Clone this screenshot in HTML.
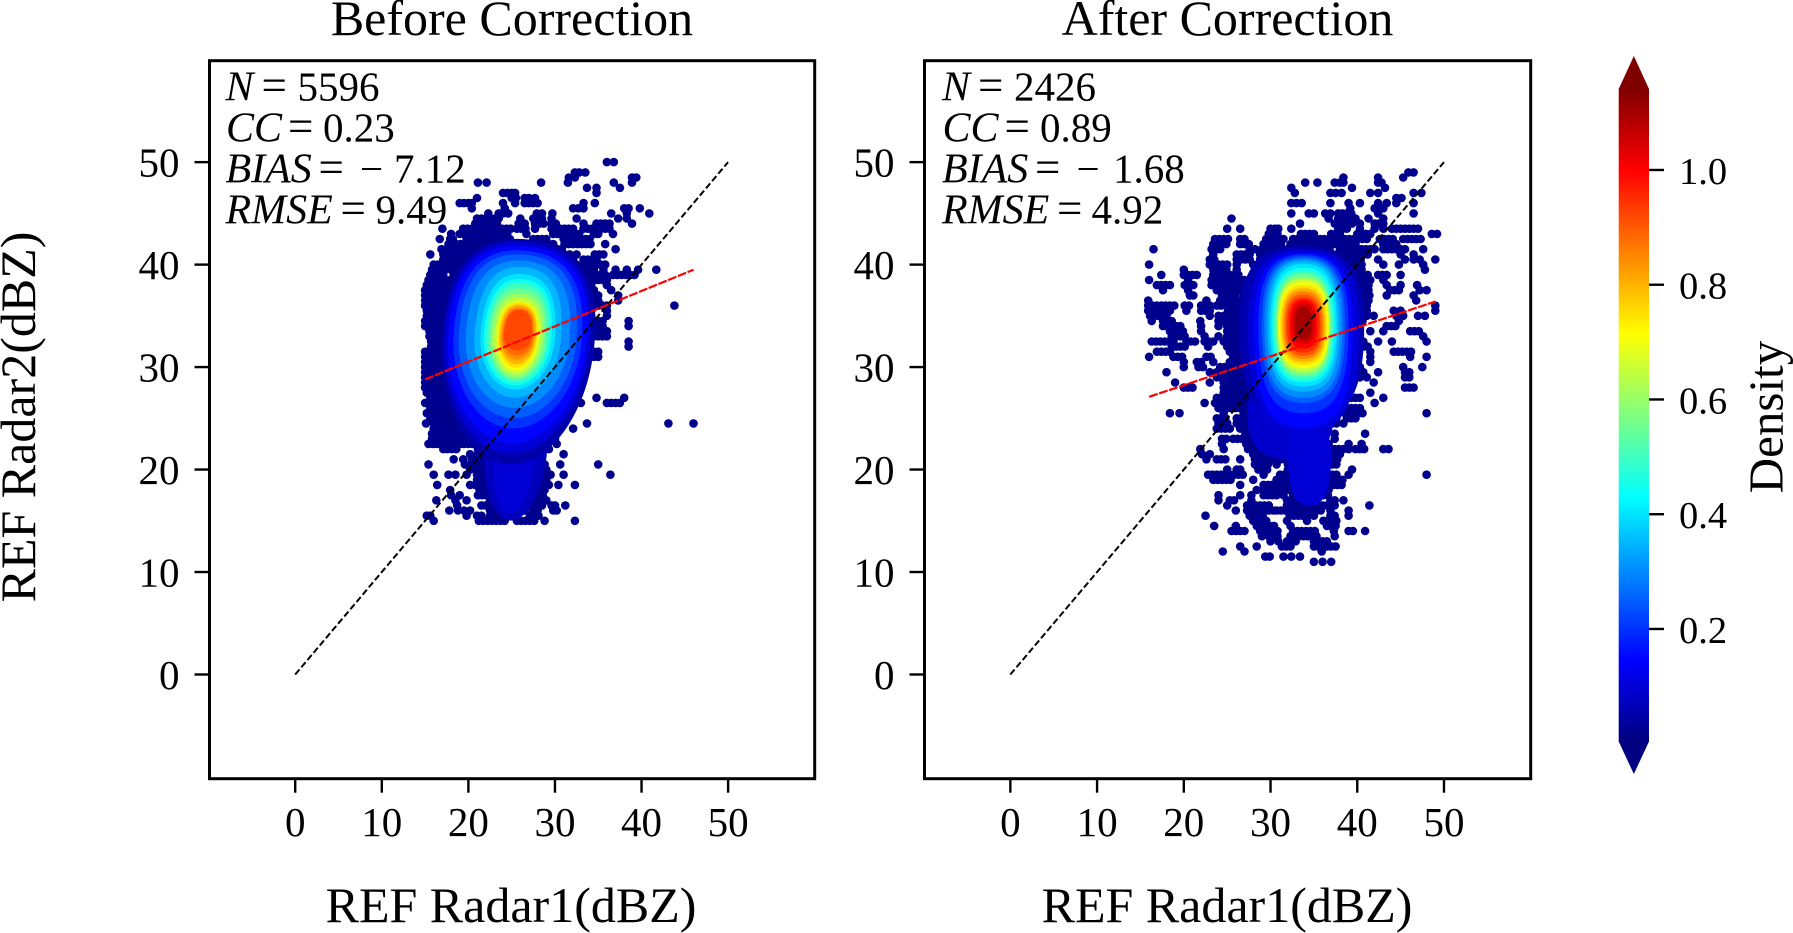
<!DOCTYPE html>
<html lang="en">
<head>
<meta charset="utf-8">
<title>Before and After Correction Radar Reflectivity Density Scatter</title>
<style>
  html, body { margin: 0; padding: 0; background: #fff; }
  svg { display: block; font-family: "Liberation Serif", serif; fill: #000; }
  .ann { font-size: 41px; }
  .ann .v { font-style: italic; font-size: 42px; }
  .ann .op { font-size: 45px; }
  .title, .axlabel { font-size: 50px; }
  .tick { font-size: 41px; }
  .cbtick { font-size: 38.5px; }
</style>
</head>
<body>
<svg id="figure" xmlns="http://www.w3.org/2000/svg" width="1793" height="933" viewBox="0 0 1793 933">
  <rect x="0" y="0" width="1793" height="933" fill="#fff"/>
  <g id="panel-before"></g>
  <g id="panel-after"></g>
  <g id="colorbar"></g>

  <text class="title" x="512" y="35" text-anchor="middle">Before Correction</text>
  <text class="title" x="1227.5" y="35" text-anchor="middle">After Correction</text>
  <text class="axlabel" x="511" y="922" text-anchor="middle">REF Radar1(dBZ)</text>
  <text class="axlabel" x="1227" y="922" text-anchor="middle">REF Radar1(dBZ)</text>
  <text class="axlabel" transform="translate(35 417) rotate(-90)" text-anchor="middle">REF Radar2(dBZ)</text>
  <text class="axlabel" style="font-size:49px" transform="translate(1782.7 417) rotate(-90)" text-anchor="middle">Density</text>

  <g class="ann">
    <text y="100.5"><tspan class="v" x="225.5">N</tspan><tspan class="op" x="261.5">=</tspan><tspan x="297.5">5596</tspan></text>
    <text y="141.5"><tspan class="v" x="226">CC</tspan><tspan class="op" x="288">=</tspan><tspan x="323">0.23</tspan></text>
    <text y="182.5"><tspan class="v" x="225.5">BIAS</tspan><tspan class="op" x="318.5">=</tspan><tspan x="360">−</tspan><tspan x="394">7.12</tspan></text>
    <text y="223.5"><tspan class="v" x="225.5">RMSE</tspan><tspan class="op" x="340.5">=</tspan><tspan x="375.5">9.49</tspan></text>
  </g>
  <g class="ann">
    <text y="100.5"><tspan class="v" x="942">N</tspan><tspan class="op" x="978">=</tspan><tspan x="1014">2426</tspan></text>
    <text y="141.5"><tspan class="v" x="942.5">CC</tspan><tspan class="op" x="1004.5">=</tspan><tspan x="1040">0.89</tspan></text>
    <text y="182.5"><tspan class="v" x="942">BIAS</tspan><tspan class="op" x="1035">=</tspan><tspan x="1076.5">−</tspan><tspan x="1113">1.68</tspan></text>
    <text y="223.5"><tspan class="v" x="942">RMSE</tspan><tspan class="op" x="1057">=</tspan><tspan x="1091.5">4.92</tspan></text>
  </g>
</svg>
<script>
// ---- axis ticks ----
const xTicks = [0, 10, 20, 30, 40, 50];
const yTicks = [0, 10, 20, 30, 40, 50];
const colorbarTicks = ['0.2', '0.4', '0.6', '0.8', '1.0'];

// ---- reference and regression lines: [x0, y0, x1, y1] in dBZ ----
const identityLine = [0, 0, 50, 50];
const beforeFitLine = [15, 28.8, 46, 39.5];
const afterFitLine = [16, 27.1, 49, 36.4];

// ---- low density points: [y or [y, y...], x | [xStart, xEnd], ...] in dBZ ----
const beforeRows = [
  [50,36,36.8],[49,32.3,32.8,33.5],[48.5,31.6,32.3,38.9,39.4],[48,21.1,22.1,28.4,31.5,36.8,38.9],
  [47.5,33.7,34.8,37.5],[47,24,24.5,25,25.4,34.8],[46.5,21,25,25.5,26.5,27,27.7],
  [46,19,19.5,20,20.4,24,25.4,26.5,27,27.5,28,33.3,34.6],[45.5,20.4,24.2,32.1,32.7,33.3,38,38.5,39.8],
  [45,22.3,23.5,24,24.6,27.9,28.5,29.7,36.5,38.3,40.9],[44.5,[21,23.7],26,[27.5,28.7],29.6,32.5,37.3,38.3],
  [44,[20.8,23.7],25.8,26.5,[27.7,28.7],29.6,30.1,33.3,[34.8,36.7],38.9],
  [43.5,17,[19.4,25.2],[25.6,26.7],27.7,[29.6,32.5],[33.3,36.7]],[43,18,[19,24.8],26.7,[29.8,32.9],34.5,35,36.7],
  [42.5,16.7,17.9,18.2,[19.8,25.2],[27.5,29.4],[31,34]],[42,17.7,18.2,[18.6,25.6],[28.3,29.8],[31.1,34.4],35.8],
  [41.5,[16.9,17.9],[18.3,31],37],[41,15.6,[17.1,31.3],31.7,32.5,[34.6,35.6]],[40.5,[17.1,32.5],[33.3,35.2]],
  [40,[16,32.5],[33.3,36]],[39.5,[15.8,17.5],[18,34.8],35.6,37,38.3,39.6,41.7],[39,[15.6,17.5],[18.3,36],[36.7,39.4]],
  [38.5,[15.4,17.9],[18.5,36]],[38,[15.2,34.5],36],[37.5,[15,34.5],36.5],[[37,36.5],[15,35.4],37.3],
  [36,[15,36],43.8],[[35.5,35],[15.2,34.5],36],[[34.5,34],[15,35.9],38.5],[[33.5,33],[15.5,36]],
  [[32.5,32],[15.7,33.8],38.5],[[31.5,31],[15,35.4]],[[30.5,30],[15,32.7]],[29.5,[15,32.2]],[29,[15,32.5]],
  [28.5,[15,17.5],[18,32]],[28,[15,17],[18.3,31.4]],[27.5,[15.2,17],[17.5,30.4],32.1],[27,[15.6,16.7],[17.5,30.4],34.8,38],
  [26.5,[15,17.5],[18,31],31.9,33,[36,37.5]],[26,[15.6,30.2]],[25.5,[15.2,29.4]],[25,[15.6,29],30.1],
  [24.5,15.1,[16,29],33.7,43.1,46],[24,[16,29],[30.1,31],32.1],[23.5,[15.8,29.2]],[23,[15.8,19],[19,29],30],
  [22.5,[15.4,18.6],[19,28.6],30.2],[22,[17.1,18.6],[21.1,28.3],29.3],[21.5,20.2,[21.1,27.5],31],
  [21,18.3,19.4,20.4,[21.3,27.9]],[20.5,15.4,19.6,20.4,[20.8,29],30.6,35],[20,20.2,[21,27.1],[27.5,29]],
  [19.5,16,17.7,18.5,19.8,[21,29.8],31,36.4],[19,[21,29.4]],[18.5,16.4,20.2,[20.8,29.4],30.4,32.3],
  [18,17.9,[21.3,29]],[17.5,18,19,[21.1,29]],[17,16.3,18.5,19.8,[22.5,29.2]],[16.5,18.7,[21.5,28.7],29.6,30,31.2],
  [16,17.8,18.8,19.5,20.2,[22.5,26],26.5,[27.5,28.3],29.8,30.2],[15.5,15.2,15.6,19.8,[21,21.7],[22.5,25.6],[27.1,28.3]],
  [15,16,[21.2,24.6],[25.6,27.7],28.8,32.3]
];
const afterRows = [
  [49,45.9,46.5],[48.5,45.3,38.4,42.4],[48,34,35.4,37.4,38,38.4,42.4,42.8],[47.5,32.4,39.4,43.2],
  [47,32.8,36.9,37.5,38.2,41.5,42.4,46.5,47.4],[46.5,44.5,45.1],[46,32.4,33,33.6,36.9,39,40.3,42.4,43.4,44.5,46.5],
  [45.5,42,42.5,43,39.2],[45,32.4,34.4,35,36.3,36.9,[37.8,39.5],42.4,46.5],[44.5,25.5,36.7,[37.8,40],41.3,43],
  [44,33.4,[37.4,39.4],40.3,[42,43.4]],[43.5,25,26.5,30,30.5,30.9,32.4,[37.8,39.2],40.3,42,43,[44,47]],
  [43,[29.8,30.9],33.5,[34,35],[37,38],[40,41.5],48.6,49.2],
  [42.5,[23.6,25.1],26.5,27,[29.5,31.5],[32.6,35.3],[35.7,37],[37.6,41.5],[42.6,44.2],[45.3,47.6]],
  [42,[23.4,25],[26.5,27.8],[29.2,31.5],[32.3,40],[43,44.5]],
  [41.5,16.5,[23.2,24.6],27.6,28.2,[29,32],[32.3,37.2],[38,42.2],[43,45.7],47.6],
  [41,23.4,[26.1,27.6],[28.8,31.9],[32.2,41.5],45,46.5],
  [40.5,[23,23.8],[26.1,28],[28.8,31.1],[31.9,40.7],42.4,45.5,46.5,47.2,49],
  [40,16,[23,25.3],26.1,[28,40.7],43,44.8,47.6],[39.5,20,[23.4,25.1],26.1,[29.5,40.7],47.8],
  [39,17.4,[20,21.5],[23.4,24.6],[25.3,26.5],[28.2,41.5],[42.4,43.4],45],[38.5,16,20.5,[23.2,24.9],[25,27.3],[28,41.5],43],
  [38,[16.9,18.8],[20.1,21.1],[23.2,27.3],[27.8,41.5],43.4,45,46.9],[37.5,17.6,20.5,[23.8,26.5],[27.8,41.5],[43.8,45],47.2,48],
  [37,20.7,21.1,[24.4,25.9],[26.9,41.5],43.4,46.5],[36.5,15.9,22.6,[24.2,25.3],[25.3,41.5],46.8],
  [36,[15.9,19.2],[20.1,20.9],[22,23],[23.8,24.7],[25.1,41.5],49],[35.5,[15.9,18.6],20.3,[22,23],[25.1,41.1],44.2,45,49],
  [35,16.1,[17,18.4],23,24,[24.6,41.5],41.9,44.5,45.3,47,47.8],[34.5,16.3,[17.6,19],21.9,24,[24.6,40.7],44.8],
  [34,[17.6,19.6],22,24,[25,40.3],[43.4,44.5]],[33.5,[18.4,20.3],22,[25,26.9],[28.2,40.3],41.5,43,[46.1,47.2]],
  [33,[18.6,20.1],22.4,24,[25,28],[29,40.3],47.6],[32.5,[16.3,18.8],[20.3,21.5],[22.4,23.4],[24.6,40],40.7,42.4,44,48],
  [32,[18.6,20.1],22.8,[25,40],[40.7,41.5]],[31.5,[16.9,18.8],[25.3,40],41.5,[44.2,46.5]],
  [31,16,[18.8,20],[22.6,23.4],[25.7,40],41.5,46.1,48],[30.5,20,[21.5,22.2],23.4,[25.3,39.2],41.5],
  [30,20,[21.7,22.2],[24.2,39.2],40.3,45.3,47.5],[29.5,18,23,[23.8,38.4],40.7,42.4,[45.5,46.1]],
  [29,[23.8,38.8],[38.8,40.3],41.1,[45.5,46.1]],[28.5,19,23,[24.6,38.4],41.9],[28,[20,21.1],[24.6,39.2],[45.5,46.5]],
  [27.5,[24.6,38.4],41.5],[27,[23.8,38],[38.8,40.7],43],[26.5,22.4,[23.6,38],42],[26,[24,38],[38.8,40.3]],
  [25.5,18.4,19.5,24.6,[26.9,37.6],[38.6,40.7],48],[25,[23.8,25],[26.1,38],[38.8,40]],[24.5,[24,25],[26.1,37.6],38.4],
  [24,[23.8,25.7],[26.5,36.5]],[23.5,[27.1,36.1],37.4,40.9],[23,[24.4,25.3],[25.7,26.7],[27.2,36.5],37.4],
  [22.5,24.4,[27.2,36.9],39,40.5],[22,21.9,24.6,[27.4,38.4],39,[39.8,41.1],43,43.6],[21.5,22.1,23,[28,38]],
  [21,22.6,[23.8,24.8],26.5,[28.2,38]],[20.5,[28.2,30],30.7,[32,35],[36.1,37.6]],
  [20,25,26.1,26.5,[28.6,30],[32,35],[35.3,36.5],39.4],[19.5,[22.8,26.9],29.2,[31.1,31.9],[32,35.3],[36.1,37.6],39,48],
  [19,[23.4,25.7],28,[30.7,31.9],[32.3,38.4]],[18.5,26.5,[29.2,38.4]],[18,28.4,[29.2,36.9]],
  [17.5,24,26.5,27.8,[29.2,30.7],31.5,[32.6,36.9]],[17,24,[25.3,26.1],27.8,[31.9,34.6],[36.9,37.6],38.4],
  [16.5,25,[27.3,30],[31.9,34.6],[35,36.5],[36.9,37.6],41.4],[16,26,[27.3,30.3],[30.7,35],[35.3,36.1],36.9,39],
  [15.5,22.5,[27.6,29.2],[32.2,34.2],35,[36.9,37.6],39],[15,[28,29.6],31.9,34.2,[36.1,38]],
  [14.5,23.5,26,[28.4,30.7],[32.3,32.6],[36.5,37.6]],[14,[25.5,27],[28.8,31.1],[32.6,35.3],37.3,39,39.5,40.9],
  [13.5,29,[29.8,31.1],[32.3,35.3],37.4],[13,30,30.9,[31.9,33],[35,36.5]],[12.5,26.5,28.4,[31.3,32.6],[35,37.6]],
  [12,24.5,27,35.9],[11.5,29.4,29.9,31.5,32.4,33.4],[11,35,36,37]
];

// ---- density contour bands, all in dBZ: level, centre x, half width, top y, bottom y ----
const beforeBandDensity = [0.07,0.10,0.05,0.10,0.15,0.20,0.25,0.30,0.35,0.40,0.45,0.50,0.55,0.60,0.65,0.70,0.75,0.80,0.84,0.88,0.92];
const beforeBandCx = [25.5,25.3,25.8,25.7,25.7,25.7,25.7,25.7,25.7,25.7,25.7,25.7,25.7,25.7,25.7,25.7,25.7,25.7,25.7,25.7,25.7];
const beforeBandHw = [3.6,2.4,8.8,8.4,8,7.4,6.8,6,5,4.3,3.9,3.6,3.3,3,2.7,2.4,2.25,2.1,1.9,1.75,1.6];
const beforeBandTop = [25,23.3,42.5,42.2,41.8,41.4,41,40.4,39.8,39.1,38.6,38.2,37.7,37.2,36.8,36.4,36.3,36.1,35.9,35.7,35.6];
const beforeBandBottom = [15,15.7,20.5,21.5,22.5,24,25,26,27,27.8,28.2,28.5,28.8,29,29.3,29.6,29.9,30.3,30.7,31.1,31.6];

const afterBandDensity = [0.09,0.10,0.06,0.10,0.15,0.20,0.25,0.30,0.35,0.40,0.45,0.50,0.55,0.60,0.65,0.70,0.75,0.80,0.85,0.90,0.95,1.00,1.05,1.10];
const afterBandCx = [32.3,34.5,33.6,33.8,33.8,33.8,33.8,33.8,33.8,33.8,33.8,33.8,33.8,33.8,33.8,33.8,33.8,33.8,33.8,33.8,33.8,33.8,33.8,33.8];
const afterBandHw = [5,2.5,7.2,6.4,5.7,5.2,4.8,4.5,4.15,3.85,3.6,3.4,3.2,3.05,2.95,2.9,2.7,2.5,2.3,2.1,1.9,1.6,1.3,0.96];
const afterBandTop = [28,24,41.8,41.5,41.2,41,40.8,40.6,40.4,40.1,39.7,39.4,39.1,38.8,38.6,38.3,38,37.7,37.4,37.1,36.8,36.6,36.3,35.9];
const afterBandBottom = [21,16.5,24.5,23.5,24,25.5,26.5,27,27.6,28.1,28.5,28.8,29.1,29.4,29.6,29.9,30.2,30.5,30.8,31.1,31.4,31.8,32.3,32.7];

// ---- plot frame and colour scale limits ----
const xDomain = [-9.9, 60];
const yDomain = [-10.17, 59.9];
const densityDomain = [0.003, 1.142];
const pointDensity = 0.02;

const SVG_NS = 'http://www.w3.org/2000/svg';
const FRAME_TOP = 60.7, FRAME_BOTTOM = 778.7;
const CB = { left: 1618.7, right: 1649, top: 88.5, bottom: 742, tipTop: 56, tipBottom: 774 };

function make(parent, tag, attrs, text) {
  const el = document.createElementNS(SVG_NS, tag);
  for (const k in attrs) el.setAttribute(k, attrs[k]);
  if (text !== undefined) el.textContent = text;
  parent.appendChild(el);
  return el;
}
function jet(v) {
  const t = Math.min(1, Math.max(0, (v - densityDomain[0]) / (densityDomain[1] - densityDomain[0])));
  const c = d => Math.round(255 * Math.min(1, Math.max(0, 1.5 - Math.abs(4 * t - d))));
  return 'rgb(' + c(3) + ',' + c(2) + ',' + c(1) + ')';
}
function yScale(v) {
  return FRAME_BOTTOM - (v - yDomain[0]) / (yDomain[1] - yDomain[0]) * (FRAME_BOTTOM - FRAME_TOP);
}

function drawPanel(cfg) {
  const g = document.getElementById(cfg.id);
  const xScale = v => cfg.left + (v - xDomain[0]) / (xDomain[1] - xDomain[0]) * (cfg.right - cfg.left);
  const sx = xScale(1) - xScale(0);

  // scatter points
  const navy = jet(pointDensity);
  const dot = (x, y) => {
    const c = make(g, 'circle', { cx: xScale(x).toFixed(1), cy: yScale(y).toFixed(1), r: 4.3, fill: navy });
    
    
  };
  cfg.rows.forEach(row => {
    [].concat(row[0]).forEach(y => {
      row.slice(1).forEach(item => {
        if (Array.isArray(item)) {
          for (let x = item[0]; x <= item[1] + 0.01; x += 0.5) dot(x, y);
        } else {
          dot(item, y);
        }
      });
    });
  });

  // density bands: closed curves whose widest point sits near the density peak
  cfg.density.forEach((d, i) => {
    const hw = cfg.hw[i] * sx;
    const cx = xScale(cfg.cx[i]);
    const span = cfg.top[i] - cfg.bottom[i];
    const widest = Math.min(cfg.top[i] - 0.3 * span, Math.max(cfg.bottom[i] + 0.3 * span, cfg.peakY));
    const yt = yScale(cfg.top[i]), yb = yScale(cfg.bottom[i]), ym = yScale(widest);
    const kT = cfg.kTop, kB = cfg.kBottom;
    const x0 = cx - hw, x1 = cx + hw;
    const shape = 'M' + x0 + ' ' + ym +
      'C' + x0 + ' ' + (ym - (ym - yt) * kT) + ' ' + (cx - hw * kT) + ' ' + yt + ' ' + cx + ' ' + yt +
      'C' + (cx + hw * kT) + ' ' + yt + ' ' + x1 + ' ' + (ym - (ym - yt) * kT) + ' ' + x1 + ' ' + ym +
      'C' + x1 + ' ' + (ym + (yb - ym) * kB) + ' ' + (cx + hw * kB) + ' ' + yb + ' ' + cx + ' ' + yb +
      'C' + (cx - hw * kB) + ' ' + yb + ' ' + x0 + ' ' + (ym + (yb - ym) * kB) + ' ' + x0 + ' ' + ym + 'Z';
    const band = make(g, 'path', {
      d: shape,
      fill: jet(d),
      transform: 'rotate(' + cfg.tilt + ' ' + cx.toFixed(1) + ' ' + ym.toFixed(1) + ')'
    });
    
    
  });

  // lines
  const identity = make(g, 'line', {
    x1: xScale(identityLine[0]), y1: yScale(identityLine[1]), x2: xScale(identityLine[2]), y2: yScale(identityLine[3]),
    stroke: '#000', 'stroke-width': 2, 'stroke-dasharray': '6.5 3'
  });
  
  
  const fit = make(g, 'line', {
    x1: xScale(cfg.fit[0]), y1: yScale(cfg.fit[1]), x2: xScale(cfg.fit[2]), y2: yScale(cfg.fit[3]),
    stroke: '#f00', 'stroke-width': 2.2, 'stroke-dasharray': '9 1.5'
  });
  
  

  // frame
  const frame = make(g, 'rect', {
    x: cfg.left, y: FRAME_TOP, width: cfg.right - cfg.left, height: FRAME_BOTTOM - FRAME_TOP,
    fill: 'none', stroke: '#000', 'stroke-width': 3
  });
  
  

  // ticks
  xTicks.forEach(v => {
    const t = make(g, 'line', { x1: xScale(v), x2: xScale(v), y1: FRAME_BOTTOM, y2: FRAME_BOTTOM + 14, stroke: '#000', 'stroke-width': 2.4 });
    
    
    const l = make(g, 'text', { class: 'tick', x: xScale(v), y: 836, 'text-anchor': 'middle' }, String(v));
    
    
  });
  yTicks.forEach(v => {
    const t = make(g, 'line', { x1: cfg.left - 15, x2: cfg.left, y1: yScale(v), y2: yScale(v), stroke: '#000', 'stroke-width': 2.4 });
    
    
    const l = make(g, 'text', { class: 'tick', x: cfg.left - 30, y: yScale(v) + 14.5, 'text-anchor': 'end' }, String(v));
    
    
  });
}

function drawColorbar() {
  const g = document.getElementById('colorbar');
  const cbY = v => CB.bottom - (v - densityDomain[0]) / (densityDomain[1] - densityDomain[0]) * (CB.bottom - CB.top);
  const defs = make(g, 'defs', {});
  const grad = make(defs, 'linearGradient', { id: 'jet-gradient', x1: 0, y1: 1, x2: 0, y2: 0 });
  for (let i = 0; i <= 64; i++) {
    const v = densityDomain[0] + (densityDomain[1] - densityDomain[0]) * i / 64;
    make(grad, 'stop', { offset: i / 64, 'stop-color': jet(v) });
  }
  const body = make(g, 'rect', { x: CB.left, y: CB.top, width: CB.right - CB.left, height: CB.bottom - CB.top, fill: 'url(#jet-gradient)' });
  
  
  const mid = (CB.left + CB.right) / 2;
  const topTip = make(g, 'polygon', { points: CB.left + ',' + (CB.top + 0.5) + ' ' + mid + ',' + CB.tipTop + ' ' + CB.right + ',' + (CB.top + 0.5), fill: jet(densityDomain[1]) });
  
  
  const bottomTip = make(g, 'polygon', { points: CB.left + ',' + (CB.bottom - 0.5) + ' ' + mid + ',' + CB.tipBottom + ' ' + CB.right + ',' + (CB.bottom - 0.5), fill: jet(densityDomain[0]) });
  
  
  colorbarTicks.forEach(label => {
    const y = cbY(parseFloat(label));
    const t = make(g, 'line', { x1: CB.right, x2: CB.right + 15, y1: y, y2: y, stroke: '#000', 'stroke-width': 2.4 });
    
    
    const l = make(g, 'text', { class: 'cbtick', x: 1679, y: y + 14 }, label);
    
    
  });
}

drawPanel({ id: 'panel-before', left: 209.5, right: 814.7, rows: beforeRows, fit: beforeFitLine,
  density: beforeBandDensity, cx: beforeBandCx, hw: beforeBandHw, top: beforeBandTop, bottom: beforeBandBottom,
  peakY: 33, kTop: 0.68, kBottom: 0.55, tilt: 5 });
drawPanel({ id: 'panel-after', left: 924.5, right: 1530.7, rows: afterRows, fit: afterFitLine,
  density: afterBandDensity, cx: afterBandCx, hw: afterBandHw, top: afterBandTop, bottom: afterBandBottom,
  peakY: 34, kTop: 0.72, kBottom: 0.72, tilt: 0 });
drawColorbar();
</script>
</body>
</html>
